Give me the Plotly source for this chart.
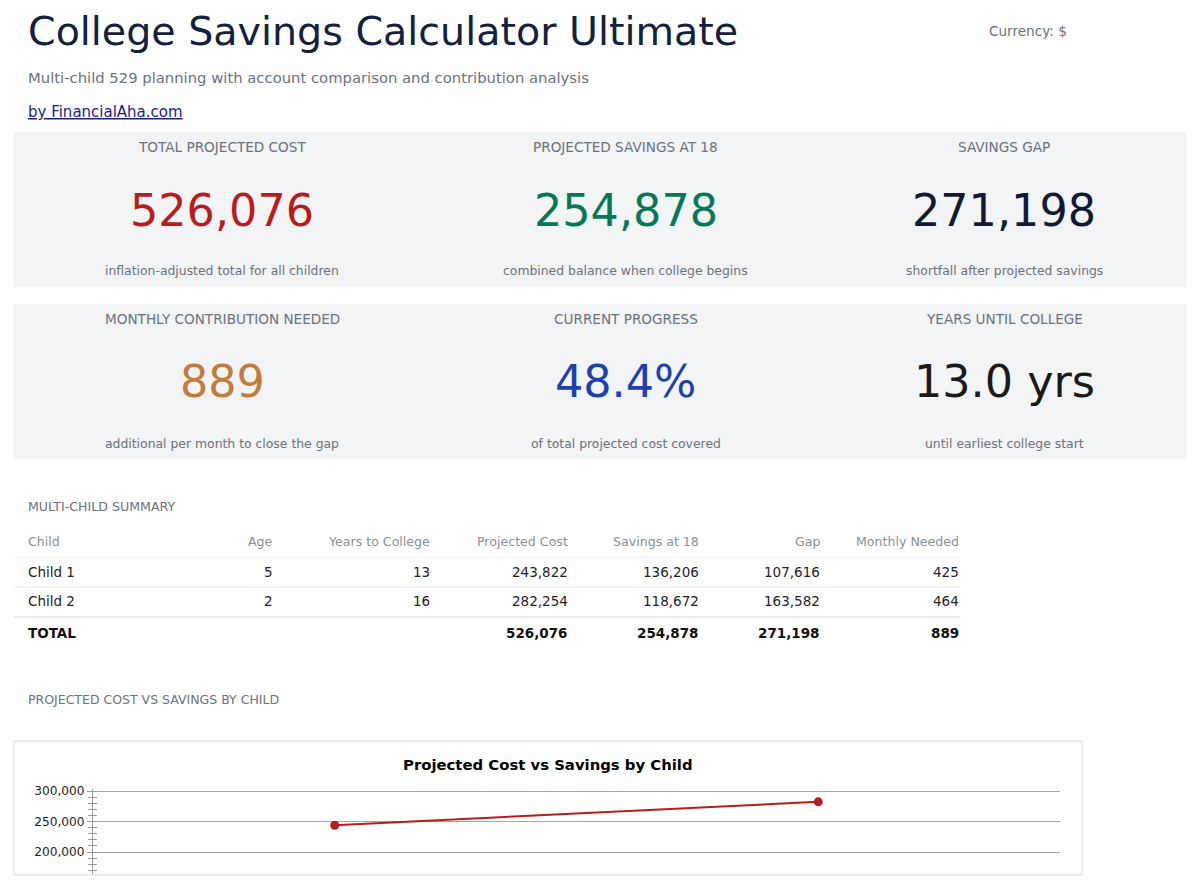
import plotly.graph_objects as go

# ---------------- data ----------------
children = ["Child 1", "Child 2"]
ages = [5, 2]
years_to_college = [13, 16]
projected_cost = [243822, 282254]
savings_at_18 = [136206, 118672]
gap = [107616, 163582]
monthly_needed = [425, 464]

table_headers = ["Child", "Age", "Years to College", "Projected Cost",
                 "Savings at 18", "Gap", "Monthly Needed"]

total_cost = sum(projected_cost)
total_savings = sum(savings_at_18)
total_gap = sum(gap)
total_monthly = sum(monthly_needed)
progress = total_savings / total_cost * 100
years_min = min(years_to_college)

kpi_labels = ["TOTAL PROJECTED COST", "PROJECTED SAVINGS AT 18", "SAVINGS GAP",
              "MONTHLY CONTRIBUTION NEEDED", "CURRENT PROGRESS", "YEARS UNTIL COLLEGE"]
kpi_values = [f"{total_cost:,}", f"{total_savings:,}", f"{total_gap:,}",
              f"{total_monthly:,}", f"{progress:.1f}%", f"{years_min:.1f} yrs"]
kpi_notes = ["inflation-adjusted total for all children",
             "combined balance when college begins",
             "shortfall after projected savings",
             "additional per month to close the gap",
             "of total projected cost covered",
             "until earliest college start"]
kpi_colors = ["#b91c1c", "#047857", "#111a35", "#c27c3e", "#1e40af", "#1a1a1a"]

# ---------------- helpers ----------------
PAGE_MARGIN = 8          # default body margin of the html page
W, H = 1200 - PAGE_MARGIN, 889 - PAGE_MARGIN
FONT = "DejaVu Sans"
PAD = 2                  # annotation inner padding


def X(px):
    return (px - PAGE_MARGIN) / W


def Y(py):
    return 1 - (py - PAGE_MARGIN) / H


annotations = []
shapes = []


def txt(x, y, s, size, color, xanchor="left", bold=False):
    if bold:
        s = f"<b>{s}</b>"
    if xanchor == "left":
        x -= PAD
    elif xanchor == "right":
        x += PAD
    annotations.append(dict(
        x=X(x), y=Y(y), xref="paper", yref="paper", text=s, showarrow=False,
        xanchor=xanchor, yanchor="middle",
        font=dict(family=FONT, size=size, color=color)))


def rect(x0, y0, x1, y1, fill, line_color=None, line_width=0):
    shapes.append(dict(type="rect", xref="paper", yref="paper",
                       x0=X(x0), x1=X(x1), y0=Y(y0), y1=Y(y1),
                       fillcolor=fill, layer="below",
                       line=dict(color=line_color or fill, width=line_width)))


def hline(x0, x1, y, color, width=1):
    shapes.append(dict(type="line", xref="paper", yref="paper",
                       x0=X(x0), x1=X(x1), y0=Y(y), y1=Y(y),
                       line=dict(color=color, width=width), layer="below"))


GRAY = "#6b7280"

# ---------------- header ----------------
txt(28, 31, "College Savings Calculator Ultimate", 39.6, "#14213d")
txt(28, 77, "Multi-child 529 planning with account comparison and contribution analysis", 14.8, GRAY)
txt(28, 112, "<u>by FinancialAha.com</u>", 15, "#1c1c8f")
txt(989, 31, "Currency: $", 13.6, GRAY)

# ---------------- KPI cards ----------------
rect(14, 132, 1186, 287, "#f3f4f6")
rect(14, 304, 1186, 459, "#f3f4f6")
col_centers = [222, 626, 1004]
row_tops = [132, 304]
for i in range(6):
    r, c = divmod(i, 3)
    top = row_tops[r]
    cx = col_centers[c]
    txt(cx, top + 15, kpi_labels[i], 13.6, GRAY, "center")
    txt(cx, top + 78, kpi_values[i], 44.5, kpi_colors[i], "center")
    txt(cx, top + 139, kpi_notes[i], 12.4, GRAY, "center")

# ---------------- table ----------------
txt(28, 507, "MULTI-CHILD SUMMARY", 12.6, GRAY)
col_x = [28, 273, 430, 568, 699, 820, 959]
col_anchor = ["left"] + ["right"] * 6
for h, x, a in zip(table_headers, col_x, col_anchor):
    txt(x, 541, h, 12.6, "#8a8f98", a)

row_y = [572, 601]
for i in range(len(children)):
    vals = [children[i], str(ages[i]), str(years_to_college[i]),
            f"{projected_cost[i]:,}", f"{savings_at_18[i]:,}",
            f"{gap[i]:,}", f"{monthly_needed[i]:,}"]
    for v, x, a in zip(vals, col_x, col_anchor):
        txt(x, row_y[i], v, 13.5, "#1f2328", a)

tot_vals = ["TOTAL", "", "", f"{total_cost:,}", f"{total_savings:,}",
            f"{total_gap:,}", f"{total_monthly:,}"]
for v, x, a in zip(tot_vals, col_x, col_anchor):
    if v:
        txt(x, 633, v, 13.5, "#111111", a, bold=True)

hline(14, 960, 557, "#eceef1", 1)
hline(14, 960, 587, "#e6e8eb", 1)
hline(14, 960, 617, "#e3e5e8", 1.5)

# ---------------- chart ----------------
txt(28, 699, "PROJECTED COST VS SAVINGS BY CHILD", 12.5, GRAY)
rect(14, 741, 1082, 875, "white", "#d9d9d9", 1)
txt(548, 765, "Projected Cost vs Savings by Child", 14.85, "#000000", "center", bold=True)

fig = go.Figure()
fig.add_trace(go.Scatter(
    x=children, y=projected_cost, name="Projected Cost", mode="lines+markers",
    line=dict(color="#b91c1c", width=2), marker=dict(size=9, color="#b91c1c"),
    xaxis="x", yaxis="y", cliponaxis=True))
fig.add_trace(go.Scatter(
    x=children, y=savings_at_18, name="Savings at 18", mode="lines+markers",
    line=dict(color="#047857", width=2), marker=dict(size=9, color="#047857"),
    xaxis="x", yaxis="y", cliponaxis=True))
# invisible helper trace so the inner-tick overlay axis is drawn
fig.add_trace(go.Scatter(
    x=children, y=projected_cost, mode="lines", line=dict(width=0),
    hoverinfo="skip", showlegend=False, xaxis="x", yaxis="y2"))

# y scale: 300,000 at py 791, 200,000 at py 852
PX_PER_UNIT = (852 - 791) / 100000
plot_top_py, plot_bottom_py = 789, 874
y_range = [300000 - (plot_bottom_py - 791) / PX_PER_UNIT,
           300000 + (791 - plot_top_py) / PX_PER_UNIT]

fig.update_layout(
    width=W, height=H,
    margin=dict(l=0, r=0, t=0, b=0, autoexpand=False),
    paper_bgcolor="white", plot_bgcolor="white",
    showlegend=False,
    font=dict(family=FONT, size=13, color="#222222"),
    xaxis=dict(domain=[X(93), X(1060)], range=[-0.5, 1.5], type="category",
               showgrid=False, showline=False, zeroline=False, ticks="",
               showticklabels=False, anchor="y", automargin=False),
    yaxis=dict(domain=[Y(plot_bottom_py), Y(plot_top_py)], range=y_range,
               tickformat=",", dtick=50000, tick0=0, automargin=False,
               showgrid=True, gridcolor="#a6a6a6", gridwidth=1,
               showline=True, linecolor="#9a9a9a", linewidth=1,
               zeroline=False, ticks="outside", ticklen=5, tickcolor="#9a9a9a",
               tickfont=dict(family=FONT, size=12.2, color="#222222"),
               minor=dict(ticks="outside", ticklen=4, dtick=10000,
                          tickcolor="#9a9a9a", showgrid=False),
               anchor="x"),
    yaxis2=dict(overlaying="y", matches="y", anchor="x", side="left",
                showgrid=False, showline=False, zeroline=False, automargin=False,
                showticklabels=False, ticks="inside", ticklen=4,
                tickcolor="#9a9a9a", dtick=50000, tick0=0,
                minor=dict(ticks="inside", ticklen=4, dtick=10000,
                           tickcolor="#9a9a9a", showgrid=False)),
    annotations=annotations,
    shapes=shapes,
)

fig.write_html("out.html")
